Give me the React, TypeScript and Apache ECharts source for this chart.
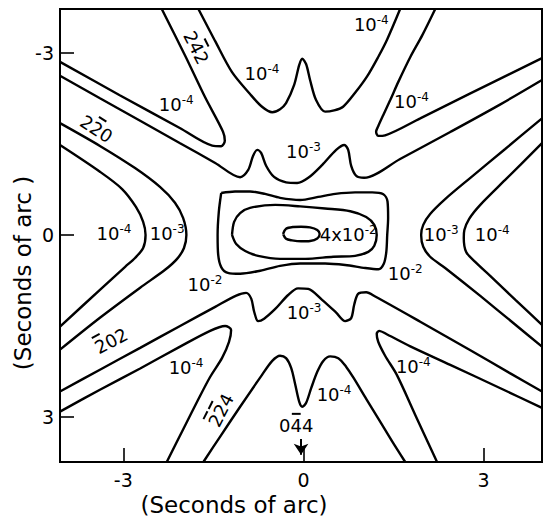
import React, { useEffect, useRef } from "react";
import * as echarts from "echarts";

// axis extents (seconds of arc)
const xRange = [-4.055, 3.973];
const yRange = [-3.72, 3.74];
const tickValues = [-3, 0, 3];

// contour curves, [x, y] in seconds of arc (y grows downward on the plot)
const ulWedge = [[-4.055, -2.85], [-3.06, -2.3], [-2.06, -1.76], [-1.52, -1.47], [-1.37, -1.46], [-1.31, -1.55], [-1.34, -1.7], [-1.64, -2.27], [-1.97, -2.95], [-2.36, -3.72]];
const upperW = [[-1.75, -3.72], [-1.47, -3.19], [-1.19, -2.68], [-0.89, -2.32], [-0.69, -2.11], [-0.52, -2.02], [-0.39, -2.07], [-0.29, -2.17], [-0.155, -2.47], [-0.07, -2.8], [-0.02, -2.9], [0.045, -2.81], [0.11, -2.55], [0.21, -2.22], [0.36, -2.03], [0.51, -2.05], [0.66, -2.11], [0.86, -2.34], [1.06, -2.61], [1.245, -2.93], [1.39, -3.21], [1.61, -3.72]];
const urWedge = [[2.195, -3.72], [1.98, -3.29], [1.78, -2.93], [1.58, -2.52], [1.445, -2.22], [1.33, -1.975], [1.245, -1.79], [1.21, -1.7], [1.245, -1.63], [1.36, -1.64], [1.945, -1.92], [2.78, -2.33], [3.973, -2.91]];
const starTop = [[-4.055, -2.62], [-3.39, -2.25], [-2.72, -1.88], [-2.055, -1.51], [-1.47, -1.185], [-1.055, -0.95], [-0.92, -1.07], [-0.84, -1.3], [-0.77, -1.4], [-0.705, -1.35], [-0.62, -1.135], [-0.49, -0.955], [-0.29, -0.865], [-0.105, -0.855], [0.08, -0.94], [0.31, -1.15], [0.545, -1.4], [0.68, -1.48], [0.745, -1.4], [0.795, -1.135], [0.88, -0.97], [1.01, -0.94], [1.61, -1.25], [2.445, -1.695], [3.28, -2.15], [3.973, -2.55]];
const starBottom = [[-4.055, 2.58], [-3.39, 2.22], [-2.72, 1.86], [-2.055, 1.5], [-1.47, 1.185], [-1.12, 1.0], [-0.955, 0.955], [-0.87, 1.05], [-0.82, 1.27], [-0.755, 1.42], [-0.655, 1.38], [-0.47, 1.22], [-0.255, 0.99], [-0.09, 0.88], [0.08, 0.89], [0.31, 1.07], [0.545, 1.28], [0.695, 1.42], [0.795, 1.37], [0.845, 1.15], [0.91, 0.97], [1.045, 0.945], [1.195, 1.015], [1.945, 1.43], [2.78, 1.9], [3.445, 2.28], [3.973, 2.58]];
const level2 = [[-1.37, -0.69], [-1.14, -0.715], [-0.89, -0.715], [-0.64, -0.675], [-0.39, -0.61], [-0.055, -0.575], [0.245, -0.625], [0.53, -0.675], [0.86, -0.7], [1.145, -0.7], [1.33, -0.67], [1.4, -0.55], [1.41, -0.28], [1.395, 0], [1.38, 0.28], [1.34, 0.47], [1.25, 0.565], [1.03, 0.545], [0.695, 0.495], [0.36, 0.47], [-0.055, 0.47], [-0.39, 0.51], [-0.72, 0.59], [-1.055, 0.64], [-1.26, 0.625], [-1.37, 0.53], [-1.42, 0.33], [-1.43, 0], [-1.41, -0.38], [-1.37, -0.69]];
const innerLoop = [[-1.19, 0], [-1.155, -0.215], [-1.055, -0.36], [-0.89, -0.445], [-0.47, -0.495], [-0.055, -0.47], [0.36, -0.435], [0.78, -0.39], [1.045, -0.295], [1.18, -0.165], [1.22, 0], [1.18, 0.18], [1.08, 0.28], [0.86, 0.345], [0.495, 0.36], [0.03, 0.395], [-0.39, 0.395], [-0.755, 0.345], [-0.97, 0.265], [-1.12, 0.15], [-1.19, 0]];
const peakLoop = [[-0.34, -0.015], [-0.29, -0.1], [-0.17, -0.13], [-0.04, -0.135], [0.11, -0.125], [0.23, -0.08], [0.27, -0.015], [0.23, 0.06], [0.11, 0.1], [-0.04, 0.105], [-0.19, 0.09], [-0.29, 0.065], [-0.34, -0.015]];
const left3 = [[-4.055, -1.84], [-3.39, -1.465], [-2.805, -1.1], [-2.39, -0.79], [-2.14, -0.53], [-2.005, -0.28], [-1.95, 0], [-1.99, 0.215], [-2.105, 0.395], [-2.305, 0.575], [-2.72, 0.87], [-3.39, 1.365], [-4.055, 1.89]];
const left4 = [[-4.055, -1.48], [-3.39, -1.04], [-3.02, -0.755], [-2.79, -0.46], [-2.67, -0.215], [-2.63, 0], [-2.67, 0.215], [-2.805, 0.38], [-2.97, 0.525], [-3.39, 0.905], [-4.055, 1.51]];
const right3 = [[3.973, -1.92], [3.36, -1.415], [2.78, -0.94], [2.36, -0.59], [2.11, -0.345], [1.995, -0.165], [1.96, 0], [1.995, 0.195], [2.11, 0.36], [2.36, 0.545], [2.945, 1.005], [3.53, 1.48], [3.973, 1.84]];
const right4 = [[3.973, -1.51], [3.36, -0.905], [2.945, -0.495], [2.76, -0.265], [2.68, -0.08], [2.67, 0.05], [2.71, 0.28], [2.86, 0.445], [3.11, 0.675], [3.53, 1.07], [3.973, 1.48]];
const llWedge = [[-4.055, 2.91], [-3.39, 2.55], [-2.72, 2.2], [-2.055, 1.84], [-1.555, 1.58], [-1.305, 1.5], [-1.205, 1.565], [-1.24, 1.76], [-1.355, 2.025], [-1.555, 2.34], [-1.755, 2.715], [-1.99, 3.175], [-2.277, 3.74]];
const lowerW = [[-1.667, 3.74], [-1.39, 3.325], [-1.055, 2.83], [-0.69, 2.305], [-0.52, 2.075], [-0.39, 1.99], [-0.29, 2.03], [-0.205, 2.19], [-0.14, 2.45], [-0.07, 2.75], [-0.02, 2.83], [0.045, 2.765], [0.13, 2.52], [0.23, 2.255], [0.33, 2.075], [0.445, 2.0], [0.58, 2.03], [0.71, 2.17], [0.835, 2.355], [1.045, 2.7], [1.28, 3.08], [1.48, 3.405], [1.695, 3.74]];
const lrWedge = [[3.973, 2.85], [3.28, 2.525], [2.445, 2.14], [1.78, 1.835], [1.395, 1.64], [1.26, 1.58], [1.22, 1.63], [1.245, 1.76], [1.36, 1.99], [1.555, 2.305], [1.86, 2.96], [2.225, 3.74]];

const contours = [ulWedge, upperW, urWedge, starTop, starBottom, level2, innerLoop, peakLoop, left3, left4, right3, right4, llWedge, lowerW, lrWedge];

// contour / band labels
const labelPoints = [
  [-1.77, -3.09], [-3.44, -1.76], [-3.21, 1.73], [-1.39, 2.88], [-0.12, 3.12],
  [1.13, -3.47], [-2.12, -2.14], [-0.69, -2.65], [1.8, -2.19], [0.0, -1.38],
  [-3.155, -0.02], [-2.27, -0.02], [0.745, 0], [2.295, 0], [3.145, 0],
  [-1.64, 0.81], [1.695, 0.64], [0.01, 1.28], [-1.955, 2.19], [0.51, 2.63], [1.83, 2.17],
];
const labelTexts = [
  "24\u03042", "22\u03040", "2\u030402", "2\u03042\u03044", "04\u03044",
  "10^-4", "10^-4", "10^-4", "10^-4", "10^-3",
  "10^-4", "10^-3", "4x10^-2", "10^-3", "10^-4",
  "10^-2", "10^-2", "10^-3", "10^-4", "10^-4", "10^-4",
];
const labelAngles = [-63, -33, 28, 63, 0, 0, 0, 0, 0, 0, 0, 0, 0, 0, 0, 0, 0, 0, 0, 0, 0];

// arrow marking the 0 4̄ 4 direction
const arrowFrom = [-0.04, 3.36];
const arrowTo = [-0.04, 3.62];

const FONT = "DejaVu Sans";
const MAC = "\u0304";
const DIGIT_W = 11.45; // DejaVu Sans digit advance at 18px

// Miller indices: bar over a digit is drawn as a small filled rich-text box above it
function toRich(t: string) {
  if (t.indexOf(MAC) >= 0) {
    let digits = "";
    const mask: boolean[] = [];
    for (const ch of t) {
      if (ch === MAC) mask[mask.length - 1] = true;
      else {
        digits += ch;
        mask.push(false);
      }
    }
    const top = mask.map((m) => (m ? "{h|\u2007}{o|\u2007}{h|\u2007}" : "{g|\u2007}")).join("");
    return `${top}\n{b|${digits}}`;
  }
  const i = t.indexOf("^");
  return i < 0 ? `{b|${t}}` : `{b|${t.slice(0, i)}}{s|${t.slice(i + 1)}}`;
}

export default function App() {
  const ref = useRef<HTMLDivElement>(null);
  useEffect(() => {
    if (!ref.current) return;
    const chart = echarts.init(ref.current, undefined, { renderer: "svg" });
    const lineSeries = contours.map((c) => ({
      type: "line",
      data: c,
      smooth: 0.3,
      symbol: "none",
      silent: true,
      lineStyle: { color: "#000", width: 2.4 },
      z: 2,
    }));
    chart.setOption({
      animation: false,
      backgroundColor: "#fff",
      grid: { left: 60, top: 9, width: 482, height: 453, show: true, borderColor: "#000", borderWidth: 2, backgroundColor: "transparent" },
      xAxis: {
        type: "value",
        min: xRange[0],
        max: xRange[1],
        axisLine: { show: false, onZero: false },
        splitLine: { show: false },
        axisTick: { show: true, inside: true, length: 14, customValues: tickValues, lineStyle: { color: "#000", width: 1.6 } },
        axisLabel: { show: true, customValues: tickValues, margin: 8, color: "#000", fontSize: 19, fontFamily: FONT },
      },
      yAxis: {
        type: "value",
        inverse: true,
        min: yRange[0],
        max: yRange[1],
        axisLine: { show: false, onZero: false },
        splitLine: { show: false },
        axisTick: { show: true, inside: true, length: 14, customValues: tickValues, lineStyle: { color: "#000", width: 1.6 } },
        axisLabel: { show: true, customValues: tickValues, margin: 6, color: "#000", fontSize: 19, fontFamily: FONT },
      },
      graphic: [
        { type: "text", x: 234, y: 505, style: { text: "(Seconds of arc)", fontSize: 23, fontFamily: FONT, fill: "#000", align: "center", verticalAlign: "middle" } },
        { type: "text", x: 23, y: 273, rotation: Math.PI / 2, style: { text: "(Seconds of arc )", fontSize: 23, fontFamily: FONT, fill: "#000", align: "center", verticalAlign: "middle" } },
      ],
      series: [
        ...lineSeries,
        {
          type: "scatter",
          data: labelPoints.map((p, i) => ({ value: p, label: { rotate: labelAngles[i] } })),
          symbolSize: 1,
          itemStyle: { color: "rgba(0,0,0,0)", opacity: 1 },
          silent: true,
          z: 3,
          label: {
            show: true,
            position: "inside",
            color: "#000",
            formatter: (p: any) => toRich(labelTexts[p.dataIndex]),
            rich: {
              b: { fontFamily: FONT, fontSize: 18, lineHeight: 21, color: "#000" },
              s: { fontFamily: FONT, fontSize: 12, lineHeight: 13, verticalAlign: "top", color: "#000" },
              g: { fontSize: 2, lineHeight: 2, width: DIGIT_W, height: 2 },
              h: { fontSize: 2, lineHeight: 2, width: 1.3, height: 2 },
              o: { fontSize: 2, lineHeight: 2, width: DIGIT_W - 2.6, height: 2, backgroundColor: "#000" },
            },
          },
        },
        {
          type: "line",
          data: [],
          symbol: "none",
          silent: true,
          itemStyle: { color: "#000" },
          markLine: {
            silent: true,
            animation: false,
            symbol: ["none", "arrow"],
            symbolSize: 11,
            label: { show: false },
            itemStyle: { color: "#000" },
            lineStyle: { color: "#000", width: 2, type: "solid" },
            data: [[{ coord: arrowFrom }, { coord: arrowTo }]],
          },
        },
      ],
    });
    return () => chart.dispose();
  }, []);
  return <div ref={ref} style={{ position: "fixed", left: 0, top: 0, width: 550, height: 518, background: "#fff" }} />;
}
